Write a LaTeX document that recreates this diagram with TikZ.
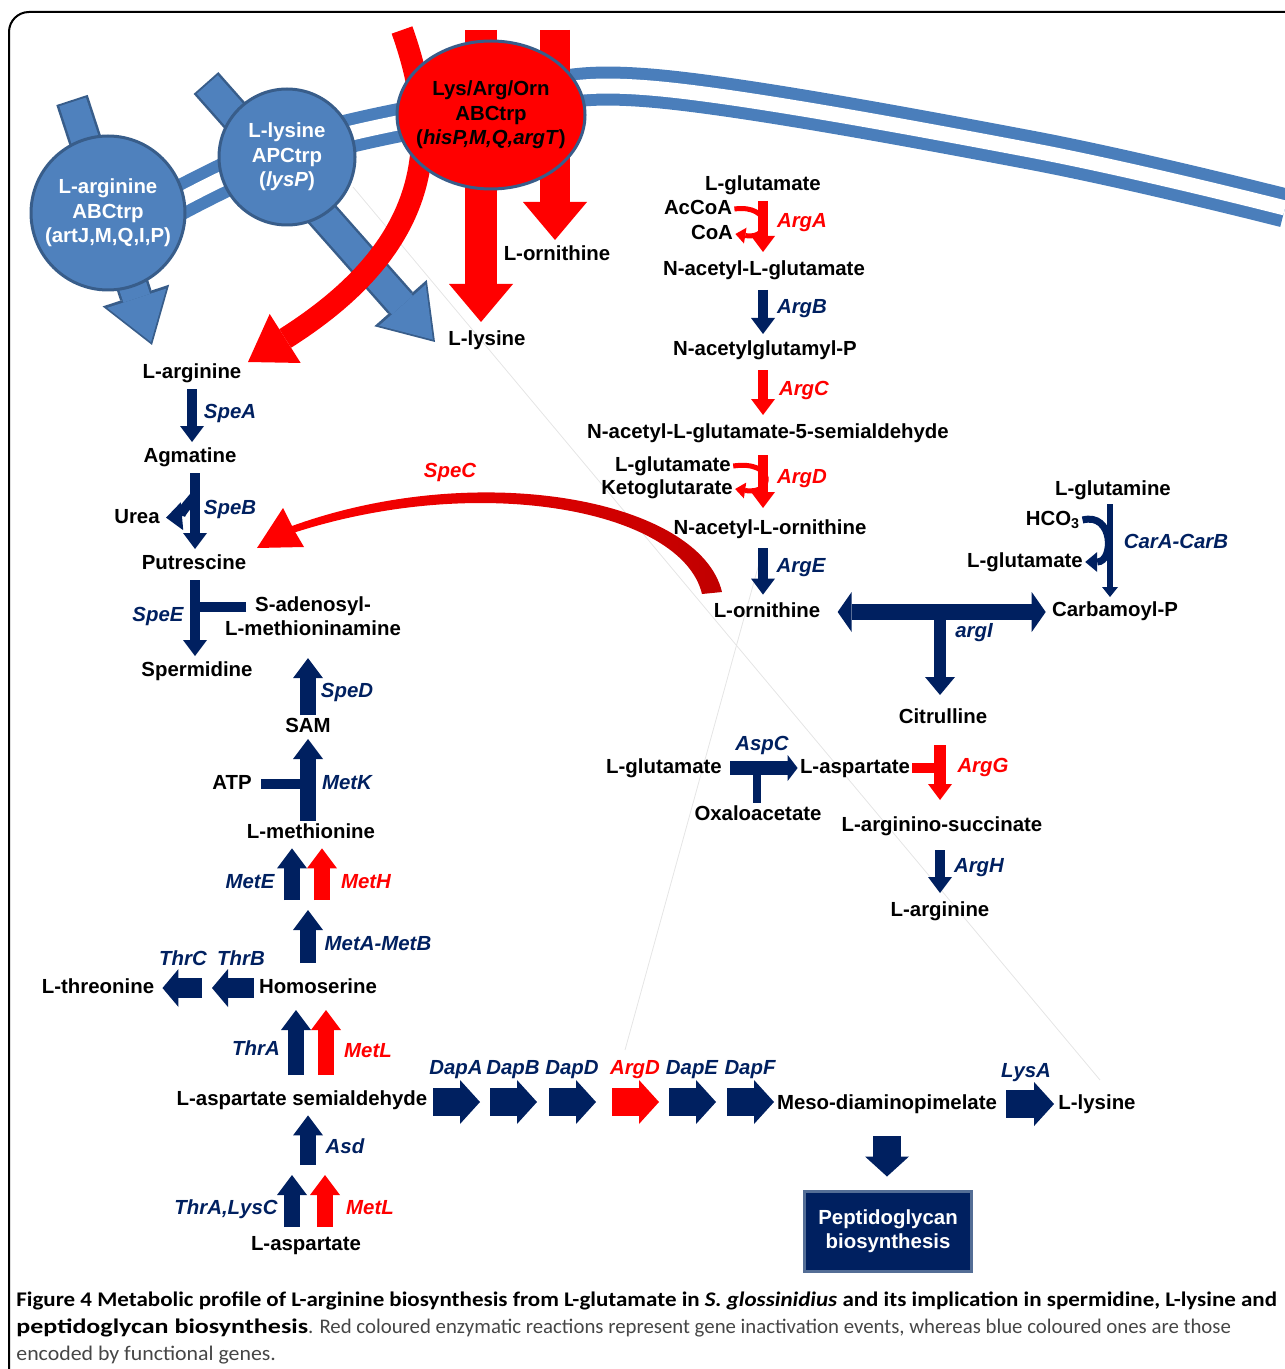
\documentclass[tikz,border=0pt]{standalone}
\usepackage{fontspec}
\setmainfont{Liberation Sans}
\newfontfamily\capfont{Carlito}
\usetikzlibrary{arrows.meta,positioning,shapes.geometric}

\definecolor{navy}{RGB}{0,32,96}
\definecolor{membblue}{RGB}{74,126,187}
\definecolor{cellblue}{RGB}{79,129,189}
\definecolor{cellrim}{RGB}{56,93,138}
\definecolor{spec}{RGB}{192,0,0}
\definecolor{capgray}{RGB}{70,70,70}
\definecolor{peprim}{RGB}{84,110,150}

\tikzset{met/.style={font=\bfseries\fontsize{10.2}{12.3}\selectfont,
                     inner sep=1pt,text height=7.4pt,text depth=2.2pt}}
\tikzset{met2/.style={font=\bfseries\fontsize{10.2}{12.2}\selectfont,
                      inner sep=1pt,align=center}}
\tikzset{enz/.style={met,font=\bfseries\itshape\fontsize{10.2}{12.3}\selectfont,text=navy}}
\tikzset{enzko/.style={enz,text=red}}
\tikzset{rxn/.style={draw=navy,line width=5pt,shorten <=2pt,shorten >=1.5pt,
                     -{Triangle[width=12pt,length=8pt,line width=0pt]}}}
\tikzset{rxnko/.style={rxn,draw=red}}
\tikzset{fat/.style={draw=navy,line width=8pt,
                     -{Triangle[width=15pt,length=10pt,line width=0pt]}}}
\tikzset{fatko/.style={fat,draw=red}}
\tikzset{fatl/.style={draw=navy,line width=10pt,
                      -{Triangle[width=19pt,length=8pt,line width=0pt]}}}
\tikzset{dap/.style={draw=navy,line width=14pt,
                     -{Triangle[width=22pt,length=10pt,line width=0pt]}}}
\tikzset{bar/.style={draw=navy,line width=5pt}}
\tikzset{hook/.style={draw=navy,line width=2.5pt,
                      -{Triangle[width=8pt,length=5pt,line width=0pt]}}}
\tikzset{cell/.style={met2,circle,draw=cellrim,line width=1.5pt,fill=cellblue,
                      text=white,inner sep=0pt}}
\tikzset{inward/.style={draw=cellblue,line width=14pt,shorten <=1pt,shorten >=1.6pt,
                        -{Triangle[width=31pt,length=23pt,line width=0pt]},
                        preaction={draw=cellrim,line width=16.5pt,shorten <=0pt,shorten >=0pt,
                                   -{Triangle[width=35pt,length=26pt,line width=0pt]}}}}
\tikzset{inred/.style={draw=red,line width=16pt,
                       -{Triangle[width=32pt,length=19pt,line width=0pt]}}}
\tikzset{captext/.style={font=\capfont\fontsize{10.4}{12}\selectfont,text=capgray,
                     inner sep=0pt,anchor=base west}}

\begin{document}
\begin{tikzpicture}[x=0.5pt,y=-0.5pt]

    \useasboundingbox (0,0) rectangle (1284,1369);
    \draw[line width=1pt,rounded corners=10pt] (9,1400) -- (9,12) -- (1300,12);

    % faint guide lines
    \draw[black!10,line width=0.4pt] (353,187) -- (1100,1080);
    \draw[black!10,line width=0.4pt] (760,560) -- (625,1050);

    % membrane
    \draw[membblue,line width=6pt,double=white,double distance=7.5pt]
        plot[smooth,tension=0.6] coordinates {(140,222) (290,150) (490,106) (650,88) (1030,150) (1285,208)};

    % uptake
    \coordinate (argin) at (72,100);
    \coordinate (argout) at (152,345);
    \coordinate (lysin) at (206,83);
    \coordinate (lysout) at (435,342);
    \coordinate (ornin1) at (402,30);
    \coordinate (ornout1) at (248,362);
    \coordinate (ornin2) at (481,30);
    \coordinate (ornout2) at (481,322);
    \coordinate (ornin3) at (555,30);
    \coordinate (ornout3) at (555,240);
    \draw[inward] (argin) -- (argout);
    \draw[inward] (lysin) -- (lysout);
    \draw[inred,line width=11pt,-{Triangle[width=29pt,length=22pt,line width=0pt]}]
        (ornin1) .. controls (445,150) and (425,250) .. (ornout1);
    \draw[inred] (ornin2) -- (ornout2);
    \draw[inred,line width=15pt] (ornin3) -- (ornout3);

    \node[cell,minimum size=77pt] (artj) at (108,213) {L-arginine\\ABCtrp\\(artJ,M,Q,I,P)};
    \node[cell,minimum size=68pt] (lysp) at (287,157) {L-lysine\\APCtrp\\(\textit{lysP})};
    \node[cell,ellipse,fill=red,text=black,inner sep=-6pt,
          minimum width=94pt,minimum height=74pt] (hisp) at (491,115)
          {Lys/Arg/Orn\\ABCtrp\\(\textit{hisP,M,Q,argT})};

    \node[met] (lorn_top) at (557,255) {L-ornithine};
    \node[met] (llys_top) at (487,340) {L-lysine};
    \node[met] (larg_top) at (192,373) {L-arginine};

    % left column
    \node[met] (agm) at (190,457) {Agmatine};
    \node[met] (urea) at (137,518) {Urea};
    \node[met] (put) at (194,564) {Putrescine};
    \node[met2] (sadm) at (313,616) {S-adenosyl-\\L-methioninamine};
    \node[met] (spd) at (197,671) {Spermidine};
    \node[met] (sam) at (308,727) {SAM};
    \node[met] (atp) at (232,784) {ATP};
    \node[met] (lmet) at (311,833) {L-methionine};
    \node[met] (hser) at (318,988) {Homoserine};
    \node[met] (lthr) at (98,988) {L-threonine};
    \node[met] (lasa) at (302,1100) {L-aspartate semialdehyde};
    \node[met] (lasp) at (306,1245) {L-aspartate};
    \node[met] (meso) at (887,1104) {Meso-diaminopimelate};
    \node[met] (llys) at (1097,1104) {L-lysine};
    \node[met2,fill=navy,draw=peprim,line width=1.5pt,text=white,
          minimum width=83.5pt,minimum height=40pt] (pep) at (888,1231) {Peptidoglycan\\biosynthesis};

    % right column
    \node[met] (lglu) at (763,185) {L-glutamate};
    \node[met] (accoa) at (698,209) {AcCoA};
    \node[met] (coa) at (712,234) {CoA};
    \node[met] (nag) at (764,270) {N-acetyl-L-glutamate};
    \node[met] (nagp) at (765,350) {N-acetylglutamyl-P};
    \node[met] (nags) at (768,433) {N-acetyl-L-glutamate-5-semialdehyde};
    \node[met] (glu2) at (673,466) {L-glutamate};
    \node[met] (kglu) at (667,489) {Ketoglutarate};
    \node[met] (nao) at (770,529) {N-acetyl-L-ornithine};
    \node[met] (lorn) at (767,612) {L-ornithine};
    \node[met] (lgln) at (1113,490) {L-glutamine};
    \node[met] (hco) at (1053,520) {HCO\textsubscript{3}};
    \node[met] (glu3) at (1025,562) {L-glutamate};
    \node[met] (carp) at (1115,611) {Carbamoyl-P};
    \node[met] (cit) at (943,718) {Citrulline};
    \node[met] (glu4) at (664,768) {L-glutamate};
    \node[met] (lasp2) at (855,768) {L-aspartate};
    \node[met] (oxa) at (758,815) {Oxaloacetate};
    \node[met] (asuc) at (942,826) {L-arginino-succinate};
    \node[met] (larg) at (940,911) {L-arginine};

    % enzymes
    \node[enz] (speA) at (230,413) {SpeA};
    \node[enz] (speB) at (230,509) {SpeB};
    \node[enzko] (speC) at (450,472) {SpeC};
    \node[enz] (speE) at (158,616) {SpeE};
    \node[enz] (speD) at (347,692) {SpeD};
    \node[enz] (metK) at (347,784) {MetK};
    \node[enz] (metE) at (250,883) {MetE};
    \node[enzko] (metH) at (366,883) {MetH};
    \node[enz] (metAB) at (378,945) {MetA-MetB};
    \node[enz] (thrC) at (183,960) {ThrC};
    \node[enz] (thrB) at (241,960) {ThrB};
    \node[enz] (thrA) at (256,1050) {ThrA};
    \node[enzko] (metL) at (368,1052) {MetL};
    \node[enz] (asd) at (345,1148) {Asd};
    \node[enz] (lysC) at (226,1209) {ThrA,LysC};
    \node[enzko] (metL2) at (370,1209) {MetL};
    \node[enz] (lysA) at (1026,1072) {LysA};
    \node[enzko] (argA) at (802,222) {ArgA};
    \node[enz] (argB) at (802,308) {ArgB};
    \node[enzko] (argC) at (804,390) {ArgC};
    \node[enzko] (argD) at (802,478) {ArgD};
    \node[enz] (argE) at (801,567) {ArgE};
    \node[enz] (argI) at (974,632) {argI};
    \node[enz] (carAB) at (1176,543) {CarA-CarB};
    \node[enz] (aspC) at (762,745) {AspC};
    \node[enzko] (argG) at (983,767) {ArgG};
    \node[enz] (argH) at (979,867) {ArgH};

    % polyamines
    \draw[rxn] (larg_top.south) -- (larg_top.south |- agm.north);
    \draw[rxn] ([xshift=2.5pt]agm.south) -- ([xshift=2.5pt]agm.south |- put.north);
    \coordinate (speB_br) at (194,497);
    \draw[hook,line width=5pt,shorten >=2pt,-{Triangle[width=14pt,length=8pt,line width=0pt]}]
        (speB_br) to[out=-130,in=5] (urea.east);
    \draw[rxn] ([xshift=0.5pt]put.south) -- ([xshift=0.5pt]put.south |- spd.north);
    \coordinate (speE_in) at (246,607);
    \draw[bar] (speE_in) -- (speE_in -| put.south);
    \draw[fat,shorten >=10pt] (sam.north) -- (sam.north |- sadm.south);
    \draw[fat] (sam.south |- lmet.north) -- (sam.south);
    \draw[bar,shorten <=3.5pt] (atp.east) -- (atp.east -| sam.south);

    % aspartate family
    \coordinate (metmid) at (308,906);
    \draw[fat,shorten <=6.5pt,shorten >=2pt] (hser.north -| metmid) -- (metmid);
    \draw[fat,shorten <=3pt,shorten >=1.7pt] ([xshift=-8pt]metmid) -- ([xshift=-8pt]metmid |- lmet.south);
    \draw[fatko,shorten <=3pt,shorten >=1.7pt] ([xshift=7pt]metmid) -- ([xshift=7pt]metmid |- lmet.south);
    \coordinate (thrmid) at (207,988);
    \draw[fatl,shorten <=1.5pt,shorten >=2.5pt] (hser.west) -- (thrmid);
    \draw[fatl,shorten <=2.5pt,shorten >=3pt] (thrmid) -- (lthr.east);
    \draw[fat,shorten <=6.5pt,shorten >=5pt] ([xshift=-3pt]lasa.north) -- ([xshift=-3pt]lasa.north |- hser.south);
    \draw[fatko,shorten <=6.5pt,shorten >=5pt] ([xshift=12pt]lasa.north) -- ([xshift=12pt]lasa.north |- hser.south);
    \coordinate (asdmid) at (308,1170);
    \draw[fat,shorten <=2.5pt,shorten >=1.7pt] (asdmid) -- (asdmid |- lasa.south);
    \draw[fat,shorten <=3pt,shorten >=2.5pt] ([xshift=-8pt]asdmid |- lasp.north) -- ([xshift=-8pt]asdmid);
    \draw[fatko,shorten <=3pt,shorten >=2.5pt] ([xshift=8.5pt]asdmid |- lasp.north) -- ([xshift=8.5pt]asdmid);

    % diaminopimelate
    \foreach \xs/\col/\gene [count=\k] in {433/navy/DapA,490/navy/DapB,549/navy/DapD,
                                          612/red/ArgD,669/navy/DapE,727/navy/DapF}{
        \coordinate (dap\k) at (\xs,1102);
        \draw[dap,draw=\col] (dap\k) -- ++(47,0);
        \node[enz,text=\col] (dapl\k) at (\xs+23,1069) {\gene};
    }
    \draw[dap,shorten <=3.5pt,shorten >=1pt] (meso.east) -- (llys.west);
    \draw[dap,shorten <=10pt,shorten >=6.5pt] (meso.south) -- (meso.south |- pep.north);

    % arginine
    \draw[rxnko,shorten >=3pt] (lglu.south) -- (lglu.south |- nag.north);
    \draw[hook,draw=red] (accoa.east) .. controls (772,204) and (772,240) .. (coa.east);
    \draw[rxn,shorten <=4pt,shorten >=2pt] (nag.south -| lglu) -- (nagp.north -| lglu);
    \draw[rxnko,shorten <=4pt,shorten >=3pt] (nagp.south -| lglu) -- (nags.north -| lglu);
    \draw[rxnko,shorten <=5pt,shorten >=4.5pt] (nags.south -| lglu) -- (nao.north -| lglu);
    \draw[hook,draw=red] (glu2.east) .. controls (775,460) and (775,495) .. (kglu.east);
    \draw[rxn,shorten <=3.7pt,shorten >=2.7pt] (nao.south -| lglu) -- (lorn.north -| lglu);

    \draw[draw=navy,line width=8pt,shorten <=7.5pt,shorten >=2pt,
          {Triangle[width=20pt,length=7pt,line width=0pt]}-{Triangle[width=20pt,length=7pt,line width=0pt]}]
        (lorn.east) -- (carp.west |- lorn.east);
    \coordinate (argi_j) at (940,612);
    \draw[rxn,line width=6pt,shorten <=0pt,shorten >=5.5pt,
          -{Triangle[width=15pt,length=9pt,line width=0pt]}] (argi_j) -- (argi_j |- cit.north);

    \draw[draw=navy,line width=3pt,shorten <=1pt,shorten >=1pt,
          -{Triangle[width=8pt,length=5pt,line width=0pt]}]
        ([xshift=-1.5pt]lgln.south) -- ([xshift=-1.5pt]lgln.south |- carp.north);
    \draw[hook,line width=3.5pt,-{Triangle[width=10pt,length=6pt,line width=0pt]}]
        (hco.east) .. controls (1114,512) and (1114,562) .. (glu3.east);

    \draw[draw=navy,line width=7pt,shorten <=3pt,
          -{Triangle[width=13pt,length=5pt,line width=0pt]}] (glu4.east) -- (lasp2.west);
    \coordinate (aspc_j) at (757,768);
    \draw[bar,line width=4pt] (aspc_j) -- (aspc_j |- oxa.north);

    \draw[bar,draw=red] (lasp2.east) -- (lasp2.east -| argi_j);
    \draw[rxnko,line width=6pt,shorten <=7.5pt,shorten >=7pt] (cit.south -| argi_j) -- (asuc.north -| argi_j);
    \draw[rxn,shorten <=6pt,shorten >=3pt] (asuc.south -| argi_j) -- (larg.north -| argi_j);

    % SpeC
    \shade[left color=red,right color=spec]
        (722,592) .. controls (700,500) and (480,458) .. (292,526)
        -- (293,533) .. controls (480,472) and (682,510) .. (702,594) -- cycle;
    \fill[red] (257,548) -- (304,547) -- (294,530) -- (283,508) -- cycle;

    % caption
    \node[captext] (cap1) at (16,1306) {\color{black}\bfseries\scalebox{1.105}[1]{Figure 4 Metabolic profile of L-arginine biosynthesis from L-glutamate in \textit{S. glossinidius} and its implication in spermidine, L-lysine and}};
    \node[captext] (cap2) at (16,1333) {\textbf{\color{black}\scalebox{1.25}[1]{peptidoglycan biosynthesis}}. Red coloured enzymatic reactions represent gene inactivation events, whereas blue coloured ones are those};
    \node[captext] (cap3) at (16,1360) {\scalebox{1.05}[1]{encoded by functional genes.}};

\end{tikzpicture}
\end{document}
